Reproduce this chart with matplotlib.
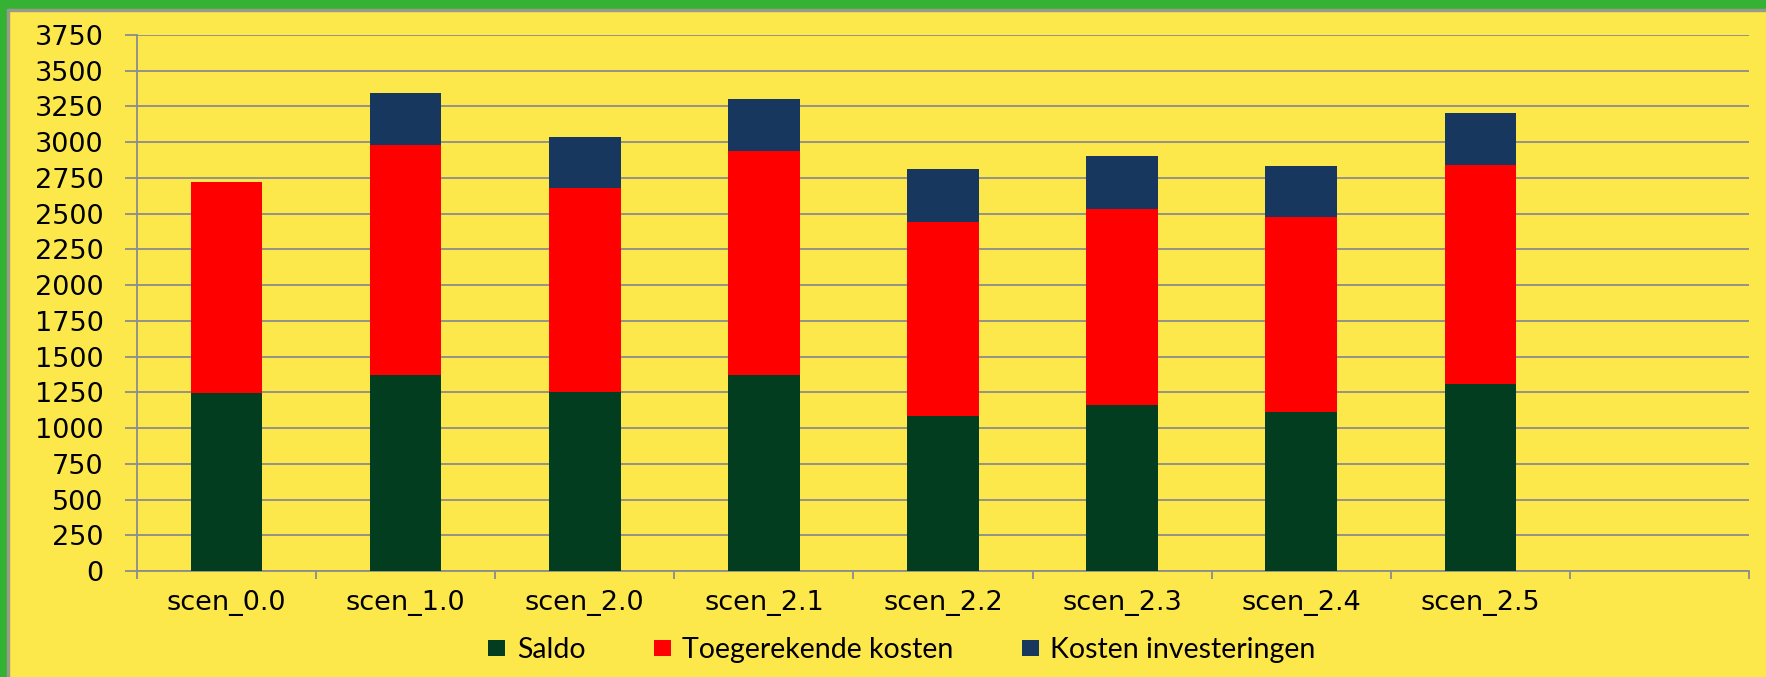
import matplotlib.pyplot as plt
from matplotlib.patches import Rectangle
import numpy as np

# Scenario totals split into three stacked parts
scenarios = ["scen_0.0", "scen_1.0", "scen_2.0", "scen_2.1",
             "scen_2.2", "scen_2.3", "scen_2.4", "scen_2.5"]
saldo = [1245, 1374, 1255, 1374, 1087, 1164, 1110, 1306]
toegerekend = [1480, 1607, 1425, 1563, 1358, 1372, 1368, 1537]
investeringen = [0, 362, 359, 368, 370, 368, 358, 364]
series_names = ["Saldo", "Toegerekende kosten", "Kosten investeringen"]
yticks = np.arange(0, 3751, 250)

yellow = "#FDE84C"
green_border = "#35B233"
grid_grey = "#8C8C8C"
colors = ["#013D1E", "#FF0000", "#17375E"]

W, H = 1766, 677
fig = plt.figure(figsize=(W / 100, H / 100), dpi=100, facecolor=yellow)

# green frame on top and left, with a thin grey inner line
fig.patches.append(Rectangle((0, 1 - 9 / H), 1, 9 / H, transform=fig.transFigure,
                             color=green_border, zorder=0))
fig.patches.append(Rectangle((0, 1 - 11 / H), 1, 2 / H, transform=fig.transFigure,
                             color="#9A9A8A", zorder=0))
fig.patches.append(Rectangle((0, 0), 7 / W, 1, transform=fig.transFigure,
                             color=green_border, zorder=1))
fig.patches.append(Rectangle((7 / W, 0), 2 / W, 1 - 9 / H, transform=fig.transFigure,
                             color="#9A9A8A", zorder=1))

ax = fig.add_axes([137 / W, 106 / H, (1749 - 137) / W, (571 - 35) / H])
ax.set_facecolor(yellow)

x = np.arange(len(scenarios))
width = 0.4
bottom = np.zeros(len(scenarios))
for vals, name, col in zip([saldo, toegerekend, investeringen], series_names, colors):
    ax.bar(x, vals, width, bottom=bottom, color=col, label=name,
           linewidth=0, zorder=3)
    bottom += np.array(vals)

ax.set_xlim(-0.5, 8.5)
ax.set_ylim(0, 3750)
ax.set_yticks(yticks)
ax.set_yticklabels([str(v) for v in yticks])
ax.yaxis.grid(True, color=grid_grey, linewidth=1.3, zorder=0)
ax.set_axisbelow(True)

ax.set_xticks(x)
ax.set_xticklabels(scenarios)
ax.set_xticks(np.arange(-0.5, 9.0, 1.0), minor=True)
ax.tick_params(axis="x", which="major", length=0, pad=14, labelsize=19.5)
ax.tick_params(axis="x", which="minor", length=6, width=1.3, color=grid_grey)
ax.tick_params(axis="y", length=9, width=1.3, color=grid_grey, pad=15, labelsize=19.5)

for side in ["top", "right"]:
    ax.spines[side].set_visible(False)
for side in ["left", "bottom"]:
    ax.spines[side].set_color(grid_grey)
    ax.spines[side].set_linewidth(1.3)

leg = fig.legend(loc="center", bbox_to_anchor=(902 / W, 1 - 650 / H), ncol=3,
                 frameon=False, handlelength=0.6, handleheight=0.5,
                 handletextpad=0.4, columnspacing=2.4,
                 prop={"family": "Lato", "size": 20.5})

fig.savefig("out.png", dpi=100, facecolor=yellow)
